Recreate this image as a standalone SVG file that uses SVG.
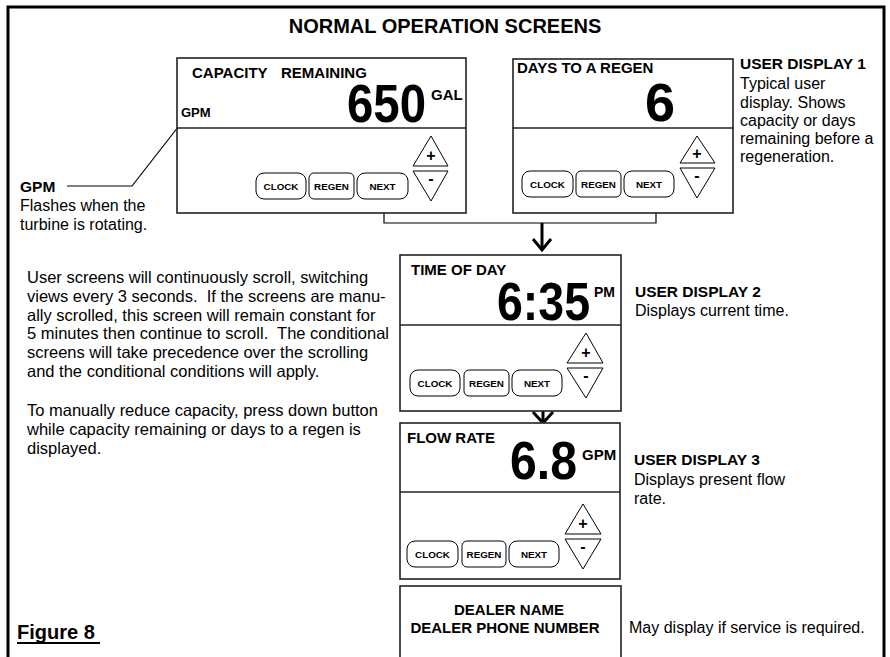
<svg xmlns="http://www.w3.org/2000/svg" width="890" height="657" viewBox="0 0 890 657">
  <style>
    text { font-family: "Liberation Sans", Arial, Helvetica, sans-serif; fill: #000; }
    .b { font-weight: bold; }
    .title { font-size: 20px; font-weight: bold; }
    .lbl { font-size: 15px; font-weight: bold; }
    .unit { font-size: 15px; font-weight: bold; }
    .big { font-size: 54px; font-weight: bold; }
    .btnt { font-size: 9.8px; font-weight: bold; text-anchor: middle; }
    .pm { font-size: 16px; font-weight: bold; text-anchor: middle; }
    .note { font-size: 16px; }
    .para { font-size: 16.5px; }
    .noteh { font-size: 15.5px; font-weight: bold; }
    .frame { fill: none; stroke: #000; stroke-width: 3; }
    .screen { fill: #fff; stroke: #222; stroke-width: 1.6; }
    .div { stroke: #222; stroke-width: 1.6; }
    .btn { fill: #fff; stroke: #000; stroke-width: 1; }
    .tri { fill: #fff; stroke: #000; stroke-width: 1; }
    .wire { fill: none; stroke: #000; stroke-width: 1.2; }
    .arrow { fill: none; stroke: #000; stroke-width: 3; }
  </style>

  <!-- outer frame, open at the bottom -->
  <path class="frame" d="M8,657 V7 H884 V657"/>
  <text class="title" x="445" y="33" text-anchor="middle">NORMAL OPERATION SCREENS</text>

  <!-- connectors -->
  <g id="connectors">
    <path class="wire" d="M384,199 V223 H656 V197"/>
    <path class="arrow" d="M542,223 V249"/>
    <path class="arrow" d="M533,239 L542,250 L551,239"/>
    <path class="arrow" d="M543,396 V422"/>
    <path class="arrow" d="M533,412 L543,423 L553,412"/>
    <path class="wire" d="M67,186 H132 L182,122"/>
  </g>

  <!-- capacity remaining screen -->
  <g id="screen-capacity">
    <rect class="screen" x="177" y="58" width="289" height="155"/>
    <line class="div" x1="177" y1="128" x2="466" y2="128"/>
    <text class="lbl" x="192" y="78">CAPACITY</text>
    <text class="lbl" x="281" y="78">REMAINING</text>
    <text class="b" x="181" y="117" font-size="13">GPM</text>
    <text class="big" x="426" y="122" text-anchor="end" textLength="79" lengthAdjust="spacingAndGlyphs">650</text>
    <text class="unit" x="431" y="100">GAL</text>
    <rect class="btn" x="256" y="173" width="50" height="26" rx="8"/>
    <rect class="btn" x="309" y="173" width="45" height="26" rx="5"/>
    <rect class="btn" x="357" y="173" width="51" height="26" rx="8"/>
    <text class="btnt" x="281" y="190">CLOCK</text>
    <text class="btnt" x="331.5" y="190">REGEN</text>
    <text class="btnt" x="382.5" y="190">NEXT</text>
    <path class="tri" d="M413,166 L431,136 L448,166 Z"/>
    <path class="tri" d="M413,171 L448,171 L431,201 Z"/>
    <text class="pm" x="431" y="161">+</text>
    <text class="pm" x="431" y="184">-</text>
  </g>

  <!-- days to regen screen -->
  <g id="screen-days">
    <rect class="screen" x="513" y="59" width="220" height="154"/>
    <line class="div" x1="513" y1="128" x2="733" y2="128"/>
    <text class="lbl" x="517" y="73">DAYS TO A REGEN</text>
    <text class="big" x="675" y="121" text-anchor="end">6</text>
    <rect class="btn" x="522" y="171" width="51" height="26" rx="8"/>
    <rect class="btn" x="576" y="171" width="45" height="26" rx="5"/>
    <rect class="btn" x="624" y="171" width="50" height="26" rx="8"/>
    <text class="btnt" x="547.5" y="188">CLOCK</text>
    <text class="btnt" x="598.5" y="188">REGEN</text>
    <text class="btnt" x="649" y="188">NEXT</text>
    <path class="tri" d="M680,163 L697,136 L715,163 Z"/>
    <path class="tri" d="M680,168 L715,168 L697,198 Z"/>
    <text class="pm" x="697" y="159">+</text>
    <text class="pm" x="697" y="181">-</text>
  </g>

  <!-- time of day screen -->
  <g id="screen-time">
    <rect class="screen" x="400" y="255" width="221" height="156"/>
    <line class="div" x1="400" y1="325" x2="621" y2="325"/>
    <text class="lbl" x="411" y="275">TIME OF DAY</text>
    <text class="big" x="590" y="320" text-anchor="end" textLength="93" lengthAdjust="spacingAndGlyphs">6:35</text>
    <text class="b" x="594" y="297" font-size="14">PM</text>
    <rect class="btn" x="410" y="370" width="50" height="26" rx="8"/>
    <rect class="btn" x="464" y="370" width="45" height="26" rx="5"/>
    <rect class="btn" x="512" y="370" width="50" height="26" rx="8"/>
    <text class="btnt" x="435" y="387">CLOCK</text>
    <text class="btnt" x="486.5" y="387">REGEN</text>
    <text class="btnt" x="537" y="387">NEXT</text>
    <path class="tri" d="M567,363 L586,333 L603,363 Z"/>
    <path class="tri" d="M567,368 L603,368 L586,398 Z"/>
    <text class="pm" x="586" y="358">+</text>
    <text class="pm" x="586" y="381">-</text>
  </g>

  <!-- flow rate screen -->
  <g id="screen-flow">
    <rect class="screen" x="400" y="423" width="220" height="156"/>
    <line class="div" x1="400" y1="492" x2="620" y2="492"/>
    <text class="lbl" x="407" y="443">FLOW RATE</text>
    <text class="big" x="577" y="479" text-anchor="end" textLength="67" lengthAdjust="spacingAndGlyphs">6.8</text>
    <text class="unit" x="582" y="460">GPM</text>
    <rect class="btn" x="407" y="541" width="51" height="26" rx="8"/>
    <rect class="btn" x="462" y="541" width="44" height="26" rx="5"/>
    <rect class="btn" x="509" y="541" width="50" height="26" rx="8"/>
    <text class="btnt" x="432.5" y="558">CLOCK</text>
    <text class="btnt" x="484" y="558">REGEN</text>
    <text class="btnt" x="534" y="558">NEXT</text>
    <path class="tri" d="M565,534 L583,504 L601,534 Z"/>
    <path class="tri" d="M565,539 L601,539 L583,569 Z"/>
    <text class="pm" x="583" y="529">+</text>
    <text class="pm" x="583" y="552">-</text>
  </g>

  <!-- dealer screen -->
  <g id="screen-dealer">
    <rect class="screen" x="400" y="586" width="221" height="80"/>
    <text class="lbl" x="509" y="615" text-anchor="middle" font-size="16">DEALER NAME</text>
    <text class="lbl" x="505" y="633" text-anchor="middle" font-size="16">DEALER PHONE NUMBER</text>
  </g>

  <!-- side notes -->
  <g id="note-gpm">
    <text class="noteh" x="20" y="192">GPM</text>
    <text class="note" x="20" y="211">Flashes when the</text>
    <text class="note" x="20" y="230">turbine is rotating.</text>
  </g>

  <g id="note-display1">
    <text class="noteh" x="740" y="69">USER DISPLAY 1</text>
    <text class="note" x="740" y="89">Typical user</text>
    <text class="note" x="740" y="108">display. Shows</text>
    <text class="note" x="740" y="126">capacity or days</text>
    <text class="note" x="740" y="144">remaining before a</text>
    <text class="note" x="740" y="162">regeneration.</text>
  </g>

  <g id="note-display2">
    <text class="noteh" x="635" y="297">USER DISPLAY 2</text>
    <text class="note" x="635" y="316">Displays current time.</text>
  </g>

  <g id="note-display3">
    <text class="noteh" x="634" y="465">USER DISPLAY 3</text>
    <text class="note" x="634" y="485">Displays present flow</text>
    <text class="note" x="634" y="504">rate.</text>
  </g>

  <g id="note-dealer">
    <text class="note" x="629" y="633" font-size="16.4">May display if service is required.</text>
  </g>

  <g id="note-scroll">
    <text class="para" x="27" y="283">User screens will continuously scroll, switching</text>
    <text class="para" x="27" y="302">views every 3 seconds.&#160; If the screens are manu-</text>
    <text class="para" x="27" y="321">ally scrolled, this screen will remain constant for</text>
    <text class="para" x="27" y="339">5 minutes then continue to scroll.&#160; The conditional</text>
    <text class="para" x="27" y="358">screens will take precedence over the scrolling</text>
    <text class="para" x="27" y="377">and the conditional conditions will apply.</text>
    <text class="para" x="27" y="416">To manually reduce capacity, press down button</text>
    <text class="para" x="27" y="435">while capacity remaining or days to a regen is</text>
    <text class="para" x="27" y="454">displayed.</text>
  </g>

  <g id="caption">
    <text class="b" x="17" y="639" font-size="20">Figure 8</text>
    <line x1="17" y1="643" x2="100" y2="643" stroke="#000" stroke-width="2"/>
  </g>
</svg>
